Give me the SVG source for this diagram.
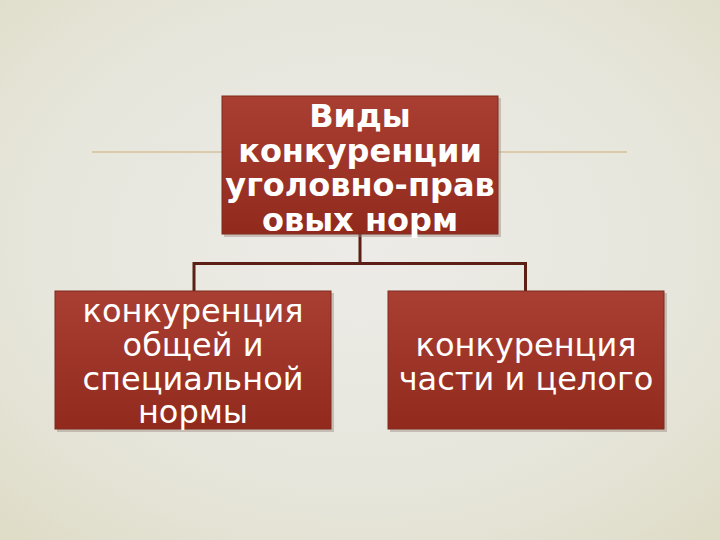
<svg xmlns="http://www.w3.org/2000/svg" width="720" height="540" viewBox="0 0 720 540">
<defs>
<radialGradient id="bg" cx="0.5" cy="0.45" r="0.75">
<stop offset="0" stop-color="#ecebe7"/>
<stop offset="0.6" stop-color="#e7e6dc"/>
<stop offset="1" stop-color="#dedcc6"/>
</radialGradient>
<linearGradient id="box" x1="0" y1="0" x2="0" y2="1">
<stop offset="0" stop-color="#a93f32"/>
<stop offset="1" stop-color="#912a1d"/>
</linearGradient>
<style>
.box{fill:url(#box);stroke:#7e2a1e;stroke-width:1}
.shadow{fill:#9c8a80;opacity:0.45}
.t{font-family:"DejaVu Sans",sans-serif;fill:#ffffff;text-anchor:middle;font-size:32px}
.tb{font-weight:bold}
.conn{fill:none;stroke:#5c1f15;stroke-width:3}
</style>
</defs>
<rect width="720" height="540" fill="url(#bg)"/>
<line x1="92" y1="152" x2="627" y2="152" stroke="#c9ad78" stroke-width="1.2"/>
<g id="connectors">
<path class="conn" d="M360 234 V263.5 M194 292 V263.5 H525.5 V292"/>
</g>
<g id="node-root">
<rect class="shadow" x="224" y="98" width="277" height="139"/>
<rect class="box" x="222" y="96" width="276" height="138"/>
<text class="t tb" x="360" y="127">Виды</text>
<text class="t tb" x="360" y="162">конкуренции</text>
<text class="t tb" x="360" y="196">уголовно-прав</text>
<text class="t tb" x="360" y="231">овых норм</text>
</g>
<g id="node-left">
<rect class="shadow" x="57" y="293" width="277" height="139"/>
<rect class="box" x="55" y="291" width="276" height="138"/>
<text class="t" x="193" y="322">конкуренция</text>
<text class="t" x="193" y="356">общей и</text>
<text class="t" x="193" y="390">специальной</text>
<text class="t" x="193" y="423">нормы</text>
</g>
<g id="node-right">
<rect class="shadow" x="390" y="293" width="277" height="139"/>
<rect class="box" x="388" y="291" width="276" height="138"/>
<text class="t" x="526" y="356">конкуренция</text>
<text class="t" x="526" y="390">части и целого</text>
</g>
</svg>
